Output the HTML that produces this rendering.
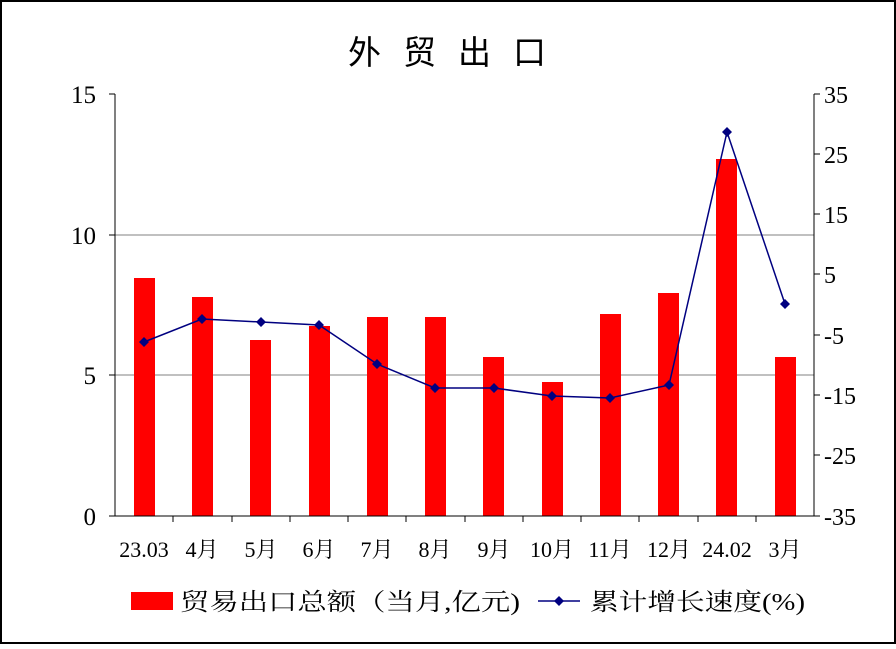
<!DOCTYPE html>
<html><head><meta charset="utf-8"><style>
body{margin:0;background:#fff}
svg text{font-family:"Liberation Serif","Noto Serif CJK SC",serif;fill:#000}
</style></head><body>
<svg width="896" height="644" viewBox="0 0 896 644" xmlns="http://www.w3.org/2000/svg">
<rect x="1" y="1" width="894" height="642" fill="#fff" stroke="#000" stroke-width="2"/>
<text x="348" y="64" font-size="33" style="font-family:'Noto Sans CJK SC',sans-serif" letter-spacing="22">外贸出口</text>
<line x1="115" y1="235" x2="814" y2="235" stroke="#808080"/>
<line x1="115" y1="375" x2="814" y2="375" stroke="#808080"/>
<g fill="#ff0000">
<rect x="134" y="278" width="21" height="238"/>
<rect x="192" y="297" width="21" height="219"/>
<rect x="250" y="340" width="21" height="176"/>
<rect x="309" y="326" width="21" height="190"/>
<rect x="367" y="317" width="21" height="199"/>
<rect x="425" y="317" width="21" height="199"/>
<rect x="483" y="357" width="21" height="159"/>
<rect x="542" y="382" width="21" height="134"/>
<rect x="600" y="314" width="21" height="202"/>
<rect x="658" y="293" width="21" height="223"/>
<rect x="716" y="159" width="21" height="357"/>
<rect x="775" y="357" width="21" height="159"/>
</g>
<g stroke="#000" fill="none">
<line x1="115" y1="94" x2="115" y2="516"/>
<line x1="814" y1="94" x2="814" y2="516"/>
<line x1="115" y1="516" x2="814" y2="516"/>
<path d="M109 94H115M109 235H115M109 375H115M109 516H115"/>
<path d="M814 94H820M814 154H820M814 214H820M814 274H820M814 335H820M814 395H820M814 455H820M814 516H820"/>
<path d="M173 516v6M232 516v6M290 516v6M348 516v6M406 516v6M465 516v6M523 516v6M581 516v6M639 516v6M698 516v6M756 516v6"/>
</g>
<polyline fill="none" stroke="#000080" stroke-width="1.5" points="144,342 202,319 261,322 319,325 377,364 435,388 494,388 552,396 610,398 669,385 727,132 785,304"/>
<g fill="#000080">
<path d="M144 337l5 5-5 5-5-5z M202 314l5 5-5 5-5-5z M261 317l5 5-5 5-5-5z M319 320l5 5-5 5-5-5z M377 359l5 5-5 5-5-5z M435 383l5 5-5 5-5-5z M494 383l5 5-5 5-5-5z M552 391l5 5-5 5-5-5z M610 393l5 5-5 5-5-5z M669 380l5 5-5 5-5-5z M727 127l5 5-5 5-5-5z M785 299l5 5-5 5-5-5z"/>
</g>
<g font-size="25" text-anchor="end">
<text x="96" y="103">15</text><text x="96" y="244">10</text><text x="96" y="384">5</text><text x="96" y="525">0</text>
</g>
<g font-size="24" text-anchor="start">
<text x="824" y="103">35</text><text x="824" y="163">25</text><text x="824" y="223">15</text><text x="824" y="283">5</text>
<text x="824" y="344">-5</text><text x="824" y="404">-15</text><text x="824" y="464">-25</text><text x="824" y="525">-35</text>
</g>
<g font-size="22" text-anchor="middle">
<text x="144" y="557">23.03</text><text x="202" y="557">4月</text><text x="261" y="557">5月</text><text x="319" y="557">6月</text>
<text x="377" y="557">7月</text><text x="435" y="557">8月</text><text x="494" y="557">9月</text><text x="552" y="557">10月</text>
<text x="610" y="557">11月</text><text x="669" y="557">12月</text><text x="727" y="557">24.02</text><text x="785" y="557">3月</text>
</g>
<rect x="131" y="592" width="42" height="18" fill="#ff0000"/>
<text x="180" y="610" font-size="24" textLength="340" lengthAdjust="spacingAndGlyphs">贸易出口总额（当月,亿元)</text>
<line x1="538" y1="601" x2="580" y2="601" stroke="#000080" stroke-width="1.5"/>
<path d="M559 596l5 5-5 5-5-5z" fill="#000080"/>
<text x="590" y="610" font-size="24" textLength="215" lengthAdjust="spacingAndGlyphs">累计增长速度(%)</text>
</svg>
</body></html>
